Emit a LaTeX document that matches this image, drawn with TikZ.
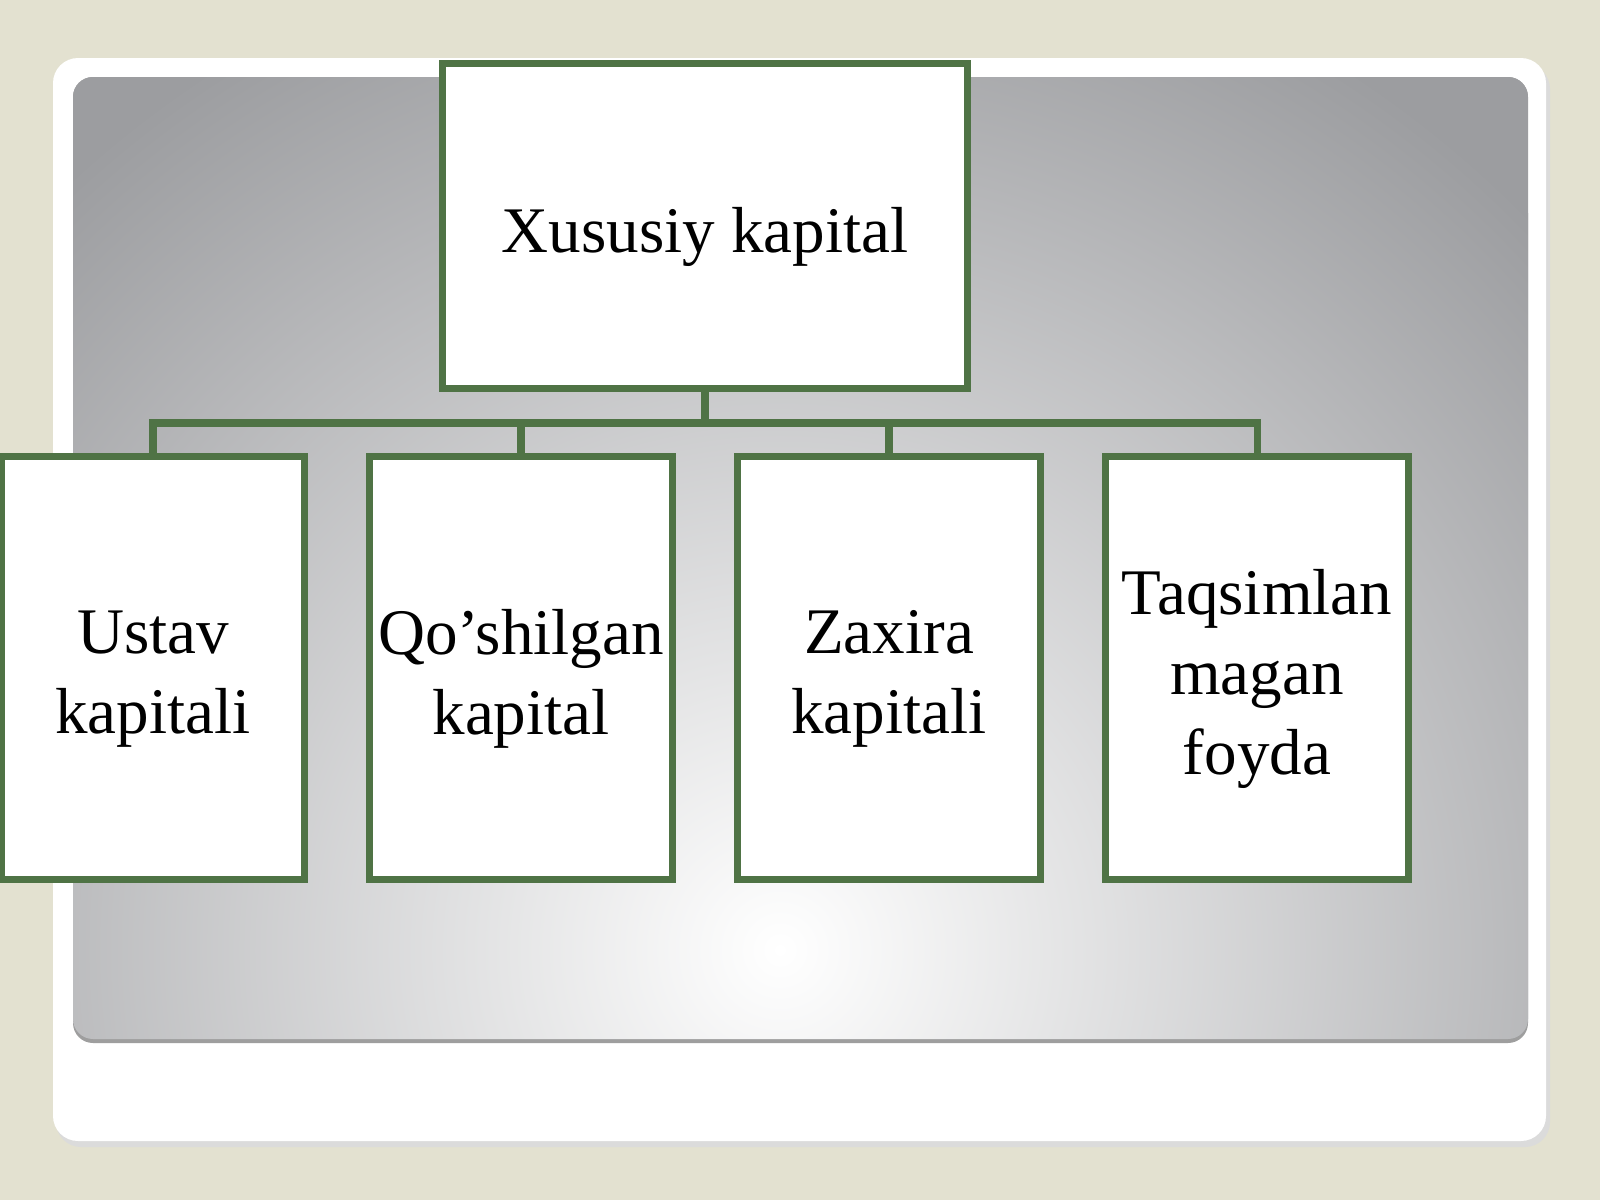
\documentclass[tikz,border=0pt]{standalone}
\usepackage{fontspec}
\setmainfont{Liberation Serif}
\usepackage{tikz}
\usetikzlibrary{calc}
\definecolor{boxgreen}{RGB}{79,115,69}
\definecolor{slidebg}{RGB}{227,225,208}
\definecolor{panelgray}{RGB}{156,157,160}
\tikzset{kbox/.style={draw=boxgreen, fill=white, line width=2pt, inner sep=0pt,
    minimum width=3.02cm, minimum height=4.22cm},
    ktext/.style={align=center, yshift=-0.11cm, font=\fontsize{18.5pt}{22.8pt}\selectfont},
    kline/.style={draw=boxgreen, line width=2pt}}

\begin{document}
\begin{tikzpicture}[x=0.01cm, y=-0.01cm]
                 \fill[slidebg] (0,0) rectangle (1600,1200);
                 \useasboundingbox (0,0) rectangle (1600,1200);
                 \fill[black!14, rounded corners=0.25cm] (56,64) rectangle (1550,1147);
                 \fill[white, rounded corners=0.25cm] (53,58) rectangle (1546,1141);
                 \fill[black!38, rounded corners=0.2cm] (73,77) rectangle (1528,1043);
                 \begin{scope}
                 \clip[rounded corners=0.2cm] (73,77) rectangle (1528,1039);
                 \fill[panelgray] (73,77) rectangle (1528,1039);
                 \shade[inner color=white, outer color=panelgray] (780,950) circle (1050);
                 \end{scope}
                 \node[kbox, minimum width=5.25cm, minimum height=3.24cm, label={[ktext]center:Xususiy kapital}] (xususiy) at (705,226) {};
                 \node[kbox, label={[ktext]center:{Ustav\\kapitali}}] (ustav) at (153,668) {};
                 \node[kbox, label={[ktext]center:{Qo’shilgan\\kapital}}] (qoshilgan) at (521,668) {};
                 \node[kbox, label={[ktext]center:{Zaxira\\kapitali}}] (zaxira) at (889,668) {};
                 \node[kbox, label={[ktext]center:{Taqsimlan\\magan\\foyda}}] (taqsim) at (1257,668) {};
                 \coordinate (bus) at (705,423);
                 \draw[kline] (xususiy.south) -- (bus);
                 \draw[kline] (ustav.north) |- (taqsim.north |- bus) -- (taqsim.north);
                 \draw[kline] (qoshilgan.north) -- (qoshilgan.north |- bus);
                 \draw[kline] (zaxira.north) -- (zaxira.north |- bus);
             \end{tikzpicture}
\end{document}
